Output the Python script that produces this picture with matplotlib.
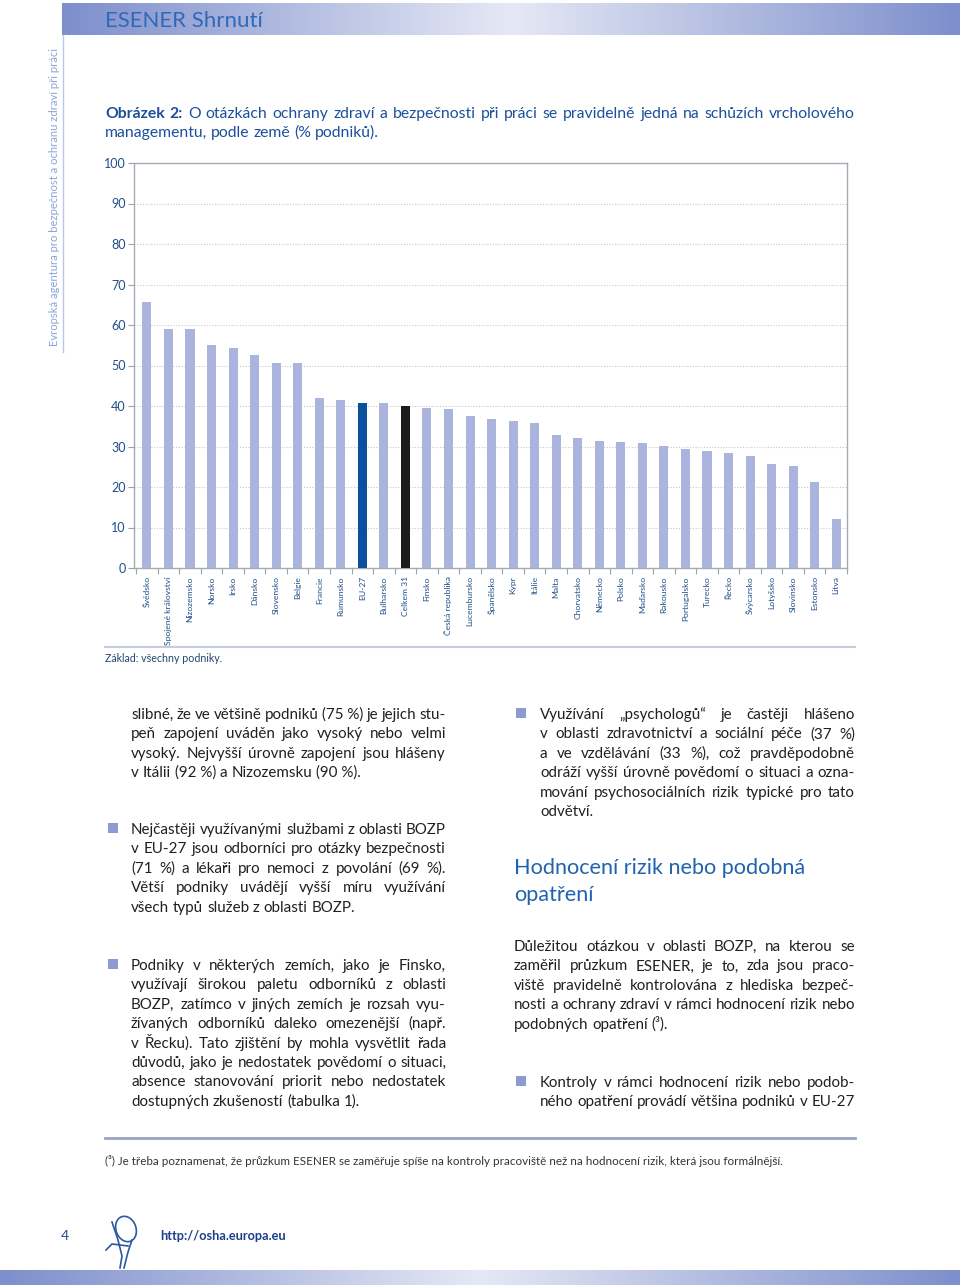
import numpy as np
import matplotlib
matplotlib.use('Agg')
import matplotlib.pyplot as plt
from matplotlib import font_manager
from matplotlib.patches import Rectangle, Ellipse

countries = ['Švédsko', 'Spojené království', 'Nizozemsko', 'Norsko', 'Irsko', 'Dánsko',
             'Slovensko', 'Belgie', 'Francie', 'Rumunsko', 'EU-27', 'Bulharsko', 'Celkem 31',
             'Finsko', 'Česká republika', 'Lucembursko', 'Španělsko', 'Kypr', 'Itálie', 'Malta',
             'Chorvatsko', 'Německo', 'Polsko', 'Maďarsko', 'Rakousko', 'Portugalsko', 'Turecko',
             'Řecko', 'Švýcarsko', 'Lotyšsko', 'Slovinsko', 'Estonsko', 'Litva']
values = [65.7, 59.1, 59.1, 55.0, 54.4, 52.7, 50.5, 50.5, 42.0, 41.5, 40.7, 40.7, 40.1,
          39.5, 39.3, 37.5, 36.9, 36.4, 35.9, 32.9, 32.0, 31.4, 31.0, 30.9, 30.2, 29.5, 29.0,
          28.4, 27.6, 25.6, 25.1, 21.3, 12.0]
yticks = list(range(0, 101, 10))

caption = ['Obrázek 2: O otázkách ochrany zdraví a bezpečnosti při práci se pravidelně jedná na schůzích vrcholového',
           'managementu, podle země (% podniků).']
left_intro = ['slibné, že ve většině podniků (75\u00a0%) je jejich stu-',
              'peň zapojení uváděn jako vysoký nebo velmi',
              'vysoký. Nejvyšší úrovně zapojení jsou hlášeny',
              'v Itálii (92\u00a0%) a Nizozemsku (90\u00a0%).']
left_b1 = ['Nejčastěji využívanými službami z oblasti BOZP',
           'v EU-27 jsou odborníci pro otázky bezpečnosti',
           '(71 %) a lékaři pro nemoci z povolání (69 %).',
           'Větší podniky uvádějí vyšší míru využívání',
           'všech typů služeb z oblasti BOZP.']
left_b2 = ['Podniky v některých zemích, jako je Finsko,',
           'využívají širokou paletu odborníků z oblasti',
           'BOZP, zatímco v jiných zemích je rozsah vyu-',
           'žívaných odborníků daleko omezenější (např.',
           'v Řecku). Tato zjištění by mohla vysvětlit řada',
           'důvodů, jako je nedostatek povědomí o situaci,',
           'absence stanovování priorit nebo nedostatek',
           'dostupných zkušeností (tabulka 1).']
right_b1 = ['Využívání „psychologů“ je častěji hlášeno',
            'v oblasti zdravotnictví a sociální péče (37 %)',
            'a ve vzdělávání (33 %), což pravděpodobně',
            'odráží vyšší úrovně povědomí o situaci a ozna-',
            'mování psychosociálních rizik typické pro tato',
            'odvětví.']
right_head = ['Hodnocení rizik nebo podobná', 'opatření']
right_p = ['Důležitou otázkou v oblasti BOZP, na kterou se',
           'zaměřil průzkum ESENER, je to, zda jsou praco-',
           'viště pravidelně kontrolována z hlediska bezpeč-',
           'nosti a ochrany zdraví v rámci hodnocení rizik nebo',
           'podobných opatření (\u00b3).']
right_b2 = ['Kontroly v rámci hodnocení rizik nebo podob-',
            'ného opatření provádí většina podniků v EU-27']
footnote = '(\u00b3) Je třeba poznamenat, že průzkum ESENER se zaměřuje spíše na kontroly pracoviště než na hodnocení rizik, která jsou formálnější.'

names = {f.name for f in font_manager.fontManager.ttflist}
BODY = 'Lato' if 'Lato' in names else 'DejaVu Sans'

NAVY = '#1f4e8c'
BLUE = '#2263b0'
TEXT = '#231f20'
BULLET = '#8d9bd2'
BODY_SIZE = 10.9

fig = plt.figure(figsize=(9.6, 12.85), dpi=100)
page = fig.add_axes([0, 0, 1, 1])
page.axis('off')

# gradient bands top and bottom
grad = np.linspace(0, 1, 400)
edge = np.array([0.49, 0.56, 0.80])
mid = np.array([0.90, 0.91, 0.96])
w = 1 - np.abs(grad - 0.5) * 2
band = (edge[None, :] * (1 - w[:, None]) + mid[None, :] * w[:, None])[None, :, :]
page.imshow(band, extent=[62, 960, 35, 3], aspect='auto', interpolation='bilinear')
page.imshow(band, extent=[0, 960, 1285, 1270], aspect='auto', interpolation='bilinear')
page.set_xlim(0, 960)
page.set_ylim(1285, 0)

r = fig.canvas.get_renderer()


def space_width(size, family):
    a = page.text(0, 0, 'n n', fontsize=size, family=family)
    b = page.text(0, 0, 'nn', fontsize=size, family=family)
    d = a.get_window_extent(r).width - b.get_window_extent(r).width
    a.remove()
    b.remove()
    return d


def put_line(x0, x1, y, s, size=BODY_SIZE, color=TEXT, family=BODY, justify=True, nbold=0):
    words = s.split(' ')
    ts = [page.text(x0, y, wd, fontsize=size, color=color, family=family, va='baseline',
                    fontweight='bold' if i < nbold else 'normal') for i, wd in enumerate(words)]
    ws = [t.get_window_extent(r).width for t in ts]
    if justify and len(ws) > 1:
        gap = (x1 - x0 - sum(ws)) / (len(ws) - 1)
    else:
        gap = space_width(size, family)
    x = x0
    for t, wd in zip(ts, ws):
        t.set_x(x)
        x += wd + gap


def para(x0, x1, y0, lines, lh=19.4, bullet=None, last=False, **kw):
    for i, l in enumerate(lines):
        put_line(x0, x1, y0 + 4 + i * lh, l, justify=last or i < len(lines) - 1, **kw)
    if bullet is not None:
        page.add_patch(Rectangle((bullet, y0 - 7), 10, 10, color=BULLET, lw=0))


# header
page.text(105, 21, 'ESENER Shrnutí', fontsize=16, color='#3168b8', family=BODY, va='center')
page.text(55, 197, 'Evropská agentura pro bezpečnost a ochranu zdraví při práci', rotation=90,
          fontsize=8.1, color='#86a6d8', family=BODY, ha='center', va='center')
page.plot([63, 63], [35, 352], color='#bcc6e6', lw=1)

# caption
put_line(105, 855, 118, caption[0], size=11.3, color='#1b4f9c', nbold=2)
put_line(105, 855, 137, caption[1], size=11.3, color='#1b4f9c', justify=False)

# chart
ax = fig.add_axes([134 / 960, 1 - 568 / 1285, 713 / 960, 405 / 1285])
x = np.arange(len(countries))
colors = ['#0b4f9f' if c == 'EU-27' else '#1c1c1c' if c == 'Celkem 31' else '#aab4dc' for c in countries]
ax.bar(x, values, width=0.42, color=colors, zorder=3)
ax.set_xlim(-0.6, len(countries) - 0.5)
ax.set_ylim(0, 100)
ax.set_yticks(yticks)
ax.set_yticklabels([str(v) for v in yticks], family=BODY, fontsize=9, color=NAVY)
ax.set_xticks(x)
ax.set_xticklabels(countries, rotation=90, family=BODY, fontsize=6.1, color=NAVY, va='top', ha='center')
ax.set_xticks(np.arange(-0.5, len(countries)), minor=True)
ax.tick_params(axis='x', which='major', length=0, pad=6)
ax.tick_params(axis='x', which='minor', length=4, color='#9aa3ad', width=0.8)
ax.tick_params(axis='y', length=4, color='#9aa3ad', width=0.8, pad=2)
for s in ax.spines.values():
    s.set_color('#a3abb5')
    s.set_linewidth(1)
ax.yaxis.grid(True, color='#c9c9c9', lw=0.8, linestyle=(0, (1, 1.5)), zorder=0)

page.plot([105, 855], [647, 647], color='#c6cde0', lw=1.5)
page.text(105, 659, 'Základ: všechny podniky.', fontsize=7.7, color='#24466e', family=BODY, va='center')

# body text
para(131, 446, 715, left_intro)
para(131, 446, 830, left_b1, bullet=108)
para(131, 446, 966, left_b2, bullet=108)
para(540, 855, 715, right_b1, bullet=516)
for i, l in enumerate(right_head):
    page.text(514, 874 + i * 27, l, fontsize=15.6, color=BLUE, family=BODY, va='baseline')
para(514, 855, 947, right_p)
para(540, 855, 1083, right_b2, bullet=516, last=True)
page.plot([105, 855], [1138, 1138], color='#98a4c4', lw=2)
page.text(105, 1161, footnote, fontsize=8.4, color='#333333', family=BODY, va='center')

# footer
page.text(65, 1236, '4', fontsize=10, color=NAVY, family=BODY, va='center', ha='center')
page.add_patch(Ellipse((126, 1229), 20, 26, angle=-20, fill=False, ec='#2a5aa0', lw=1.2))
page.plot([112, 118, 122, 120], [1222, 1240, 1256, 1268], color='#2a5aa0', lw=1.2)
page.plot([132, 128, 124], [1240, 1252, 1268], color='#2a5aa0', lw=1.2)
page.plot([106, 112, 128], [1250, 1244, 1246], color='#2a5aa0', lw=1.2)
page.text(160, 1236, 'http://osha.europa.eu', fontsize=9.2, fontweight='bold', color='#1d3f8a',
          family=BODY, va='center')

fig.savefig('out.png', dpi=100)
